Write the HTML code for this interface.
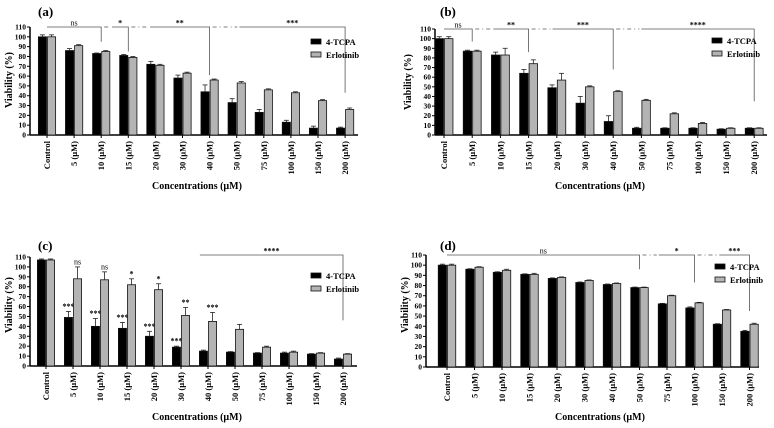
<!DOCTYPE html>
<html><head><meta charset="utf-8"><style>
html,body{margin:0;padding:0;background:#fff;}
svg{display:block;font-family:"Liberation Serif",serif;font-weight:bold;}
</style></head><body>
<svg id="fig" width="774" height="428" viewBox="0 0 774 428" xmlns="http://www.w3.org/2000/svg"></svg>
<script>
const categories = ["Control","5 (\u00b5M)","10 (\u00b5M)","15 (\u00b5M)","20 (\u00b5M)","30 (\u00b5M)","40 (\u00b5M)","50 (\u00b5M)","75 (\u00b5M)","100 (\u00b5M)","150 (\u00b5M)","200 (\u00b5M)"];
const yTicks = [0,10,20,30,40,50,60,70,80,90,100,110];
const seriesNames = ["4-TCPA","Erlotinib"];

const aTcpa = [100,86,83,81,72,58,44,33,23,13,7,7];
const aErlo = [100,91,85,79,71,63,56,53,46,43,35,26];
const aTcpaErr = [2,2,0.5,1,3,3,7,4,3,2,2,1];
const aErloErr = [2,1,1,1,1,1,1,1.5,1,1,1,1.5];

const bTcpa = [100,87,83,64,49,33,14,7,7,7,6,7];
const bErlo = [100,87,83,74,57,50,45,36,22,12,7,7];
const bTcpaErr = [2,1,3,4,3,7,6,1,0.5,0.5,0.5,0.5];
const bErloErr = [2,1,7,4,7,1,1,1,1,1,0.5,0.5];

const cTcpa = [107,49,40,38,30,19,15,14,13,13,12,7];
const cErlo = [107,88,87,82,77,51,45,37,19,14,13,12];
const cTcpaErr = [1,6,8,6,5,1,1,0.5,0.5,1,0.5,1];
const cErloErr = [1,12,8,6,6,8,9,5,1,1,0.5,0.5];
const cTcpaSig = ["","***","***","***","***","***","","","","","",""];
const cErloSig = ["","ns","ns","*","*","**","***","","","","",""];

const dTcpa = [100,96,93,91,87,83,81,78,62,58,42,35];
const dErlo = [100,98,95,91,88,85,82,78,70,63,56,42];
const dTcpaErr = [1,0.5,0.5,0.5,0.5,0.5,0.5,0.5,0.5,1,0.5,1];
const dErloErr = [1,0.5,1,1,0.5,0.5,0.5,0.5,0.5,0.5,0.5,1];

const aBrackets = [[0,2,"ns",95],[2.4,3,"*",85],[3.8,6,"**",61],[7.1,11,"***",43]];
const bBrackets = [[0,1,"ns",97],[1.75,3,"**",86],[3.85,6,"***",68],[7,11,"****",35]];
const cBrackets = [[5.7,11,"****",46]];
const dBrackets = [[0,7,"ns",96],[7.7,9,"*",83],[9.9,11,"***",55]];

const NS="http://www.w3.org/2000/svg";
const svg=document.getElementById('fig');
function mk(tag,attrs,parent){const e=document.createElementNS(NS,tag);for(const k in attrs)e.setAttribute(k,attrs[k]);(parent||svg).appendChild(e);return e;}

const panels=[
 {id:"a",ax:30,zero:135,top:27,right:358,c0:47,step:27.1,lx:311,ly:43,lab:[38,16],ylx:9,yly:80,xtx:197,xty:189,tcpa:aTcpa,erlo:aErlo,te:aTcpaErr,ee:aErloErr,br:aBrackets,brY:110},
 {id:"b",ax:435,zero:135,top:29,right:767,c0:444,step:28.2,lx:712,ly:42,lab:[440,16],ylx:408,yly:82,xtx:600,xty:189,tcpa:bTcpa,erlo:bErlo,te:bTcpaErr,ee:bErloErr,br:bBrackets,brY:110},
 {id:"c",ax:30,zero:366,top:257,right:357,c0:46,step:27.0,lx:311,ly:277,lab:[38,250],ylx:9,yly:305,xtx:197,xty:420,tcpa:cTcpa,erlo:cErlo,te:cTcpaErr,ee:cErloErr,br:cBrackets,brY:112,tsig:cTcpaSig,esig:cErloSig},
 {id:"d",ax:426,zero:367,top:255,right:759,c0:447,step:27.5,lx:715,ly:268,lab:[440,250],ylx:405,yly:305,xtx:600,xty:420,tcpa:dTcpa,erlo:dErlo,te:dTcpaErr,ee:dErloErr,br:dBrackets,brY:110}
];

panels.forEach(p=>{
 const g=mk('g',{});
 
 
 const yS=v=>p.zero-(v/110)*(p.zero-p.top);
 const xS=i=>p.c0+i*p.step;
 const bw=p.step*0.3;
 const pl=mk('text',{x:p.lab[0],y:p.lab[1],'font-size':13},g);pl.textContent='('+p.id+')';
 
 
 const ya=mk('line',{x1:p.ax,y1:p.top,x2:p.ax,y2:p.zero,stroke:'#000','stroke-width':1.5},g);
 
 
 const xa=mk('line',{x1:p.ax,y1:p.zero,x2:p.right,y2:p.zero,stroke:'#000','stroke-width':1.5},g);
 
 
 yTicks.forEach(t=>{
  mk('line',{x1:p.ax-3,y1:yS(t),x2:p.ax,y2:yS(t),stroke:'#000','stroke-width':1},g);
  const tl=mk('text',{x:p.ax-4,y:yS(t)+2.5,'font-size':7.5,'text-anchor':'end'},g);tl.textContent=t;
  
  
 });
 const yl=mk('text',{x:0,y:0,'font-size':10,'text-anchor':'middle',transform:`translate(${p.ylx+3},${p.yly}) rotate(-90)`},g);
 yl.textContent='Viability (%)';
 
 
 const xt=mk('text',{x:p.xtx,y:p.xty,'font-size':10,'text-anchor':'middle'},g);
 xt.textContent='Concentrations (\u00b5M)';
 
 
 categories.forEach((c,i)=>{
  const cx=xS(i);
  mk('line',{x1:cx,y1:p.zero,x2:cx,y2:p.zero+3,stroke:'#000','stroke-width':1},g);
  const lt=mk('text',{x:0,y:0,'font-size':8.5,'text-anchor':'end',transform:`translate(${cx+3},${p.zero+6}) rotate(-90)`},g);
  lt.textContent=c;
  
  
  [[p.tcpa,p.te,'#000',cx-bw-0.5,p.tsig],[p.erlo,p.ee,'#b4b4b4',cx+0.5,p.esig]].forEach(([vals,errs,col,bx,sig],si)=>{
   const v=vals[i];
   const r=mk('rect',{x:bx,y:yS(v),width:bw,height:p.zero-yS(v),fill:col,stroke:'#111','stroke-width':0.8},g);
   
   
   const ex=bx+bw/2, et=yS(v+errs[i]);
   mk('line',{x1:ex,y1:yS(v),x2:ex,y2:et,stroke:'#222','stroke-width':0.8},g);
   mk('line',{x1:ex-2.5,y1:et,x2:ex+2.5,y2:et,stroke:'#222','stroke-width':0.8},g);
   if(sig&&sig[i]){
    const st=mk('text',{x:ex,y:et-2.5,'font-size':8,'text-anchor':'middle','font-weight':sig[i]=='ns'?'normal':'bold'},g);
    st.textContent=sig[i];
    
    
   }
  });
 });
 const by=yS(p.brY);
 let prevEnd=null;
 p.br.forEach(([f,t,lab,drop])=>{
  const x1=xS(f),x2=xS(t);
  if(prevEnd!==null){
   mk('line',{x1:prevEnd+3,y1:by,x2:x1-2,y2:by,stroke:'#555','stroke-width':0.8,'stroke-dasharray':'4,3,1,3'},g);
  }
  const bl=mk('polyline',{points:`${x1},${by} ${x2},${by} ${x2},${yS(drop)}`,fill:'none',stroke:'#555','stroke-width':0.8},g);
  
  
  const bt=mk('text',{x:(x1+x2)/2,y:by-1.5,'font-size':8,'text-anchor':'middle','font-weight':lab=='ns'?'normal':'bold'},g);
  bt.textContent=lab;
  
  
  prevEnd=x2;
 });
 seriesNames.forEach((n,k)=>{
  const yy=p.ly+k*13;
  const sw=mk('rect',{x:p.lx,y:yy-4,width:10,height:5,fill:k?'#b4b4b4':'#000',stroke:'#111','stroke-width':0.8},g);
  
  
  const lt=mk('text',{x:p.lx+15,y:yy+2,'font-size':8.5},g);
  lt.textContent=n;
  
  
 });
});
</script>
</body></html>
